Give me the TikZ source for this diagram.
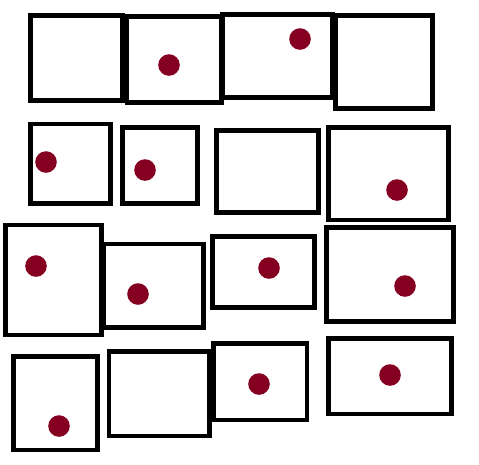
\documentclass[tikz,border=0pt]{standalone}
\usepackage{xcolor}
\usepackage{tikz}
\usetikzlibrary{
  shapes.geometric,
  positioning
}
\definecolor{isDot}{HTML}{850020}
\tikzset{
  cellbox/.style={draw=black, line width=4.7pt, rectangle, inner sep=0pt, fill=none},
  dotmark/.style={circle, fill=isDot, draw=none, inner sep=0pt, minimum size=21.6pt}
}
\begin{document}
\begin{tikzpicture}[x=1pt, y=-1pt]
  \useasboundingbox (0,0) rectangle (479,464);
  % grid of boxes: name/centre x/centre y/width/height
  \foreach \n/\cx/\cy/\w/\h in {
      1/76.4/58/91.8/84.6, 2/174.1/59.25/94.2/85.9, 3/277.4/55.9/110.2/83.2, 4/384/62/96.6/92.6,
      5/70.35/163.65/80.3/79.3, 6/159.8/165.3/75/76, 7/267.3/171.5/102/81.6, 8/388.3/173.65/120/92.7,
      9/53.5/280/95.6/110, 10/153.65/285.85/99.7/83.7, 11/263.5/271.8/102.4/71, 12/389.8/274.5/127/94.4,
      13/55.3/403.15/84/93.7, 14/159.15/393.85/100.3/84.3, 15/260.15/381.65/93.7/76.7, 16/389.8/376.15/123/75.7}{
    \node[cellbox, minimum width=\w pt, minimum height=\h pt] (box\n) at (\cx,\cy) {};
  }
  % dots inside some of the boxes
  \foreach \n/\x/\y in {2/169/65, 3/300/39, 5/46/162, 6/145/170, 8/397/190, 9/36/266,
      10/138/294, 11/269/268, 12/405/286, 13/59/426, 15/259/384, 16/390/375}{
    \node[dotmark] (dot\n) at (\x,\y) {};
  }
\end{tikzpicture}
\end{document}
